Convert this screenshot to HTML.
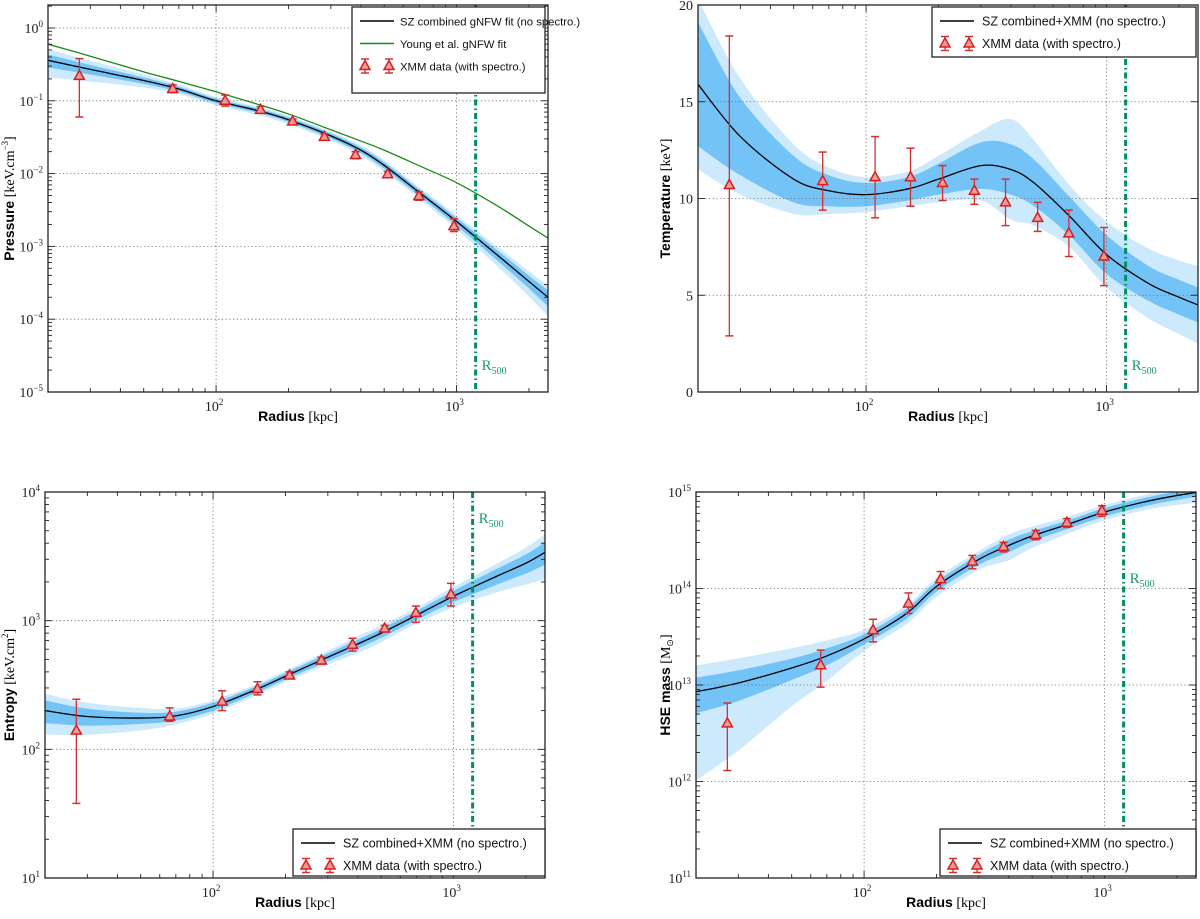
<!DOCTYPE html>
<html><head><meta charset="utf-8"><style>
body{margin:0;background:#fff}
svg text{font-family:"Liberation Serif",serif}
.sans{font-family:"Liberation Sans",sans-serif}
</style></head><body>
<svg id="fig" xmlns="http://www.w3.org/2000/svg" width="1200" height="914" viewBox="0 0 1200 914"></svg>
<script>
// ---- shared data ----
const radiusGrid = [20,30,50,70,100,150,200,300,400,500,700,1000,1500,2000,2400];
const xmmRadius = [27,66,109,153,208,282,380,517,697,975];
const r500 = 1200;

// Pressure
const pressFit = [0.36,0.27,0.19,0.145,0.10,0.073,0.055,0.033,0.021,0.013,0.0055,0.0022,0.00073,0.00033,0.0002];
const pressInner = [0.2,0.15,0.1,0.08,0.07,0.07,0.07,0.08,0.09,0.1,0.1,0.12,0.16,0.2,0.25];
const pressOuter = [0.42,0.32,0.2,0.15,0.13,0.13,0.13,0.14,0.16,0.18,0.18,0.22,0.3,0.38,0.45];
const youngFit = [0.6,0.41,0.25,0.185,0.133,0.089,0.066,0.040,0.028,0.021,0.0128,0.0075,0.0035,0.0019,0.0013];
const pressVal = [0.22,0.145,0.10,0.075,0.052,0.032,0.018,0.0098,0.0049,0.0019];
const pressLo = [0.06,0.13,0.085,0.068,0.048,0.029,0.016,0.009,0.0043,0.0016];
const pressHi = [0.38,0.165,0.12,0.083,0.056,0.035,0.02,0.0107,0.0056,0.0024];

// Temperature
const tempFit = [15.9,13.2,11.0,10.4,10.2,10.5,11.0,11.7,11.5,10.8,9.1,7.1,5.6,4.9,4.5];
const tempInner = [3.2,2.0,1.2,0.8,0.6,0.6,0.8,1.2,1.3,1.2,1.0,1.0,0.9,0.9,0.9];
const tempOuter = [4.4,3.0,1.8,1.2,0.9,0.9,1.2,1.8,2.6,2.2,1.6,1.7,1.8,1.9,2.0];
const tempVal = [10.7,10.9,11.1,11.1,10.8,10.4,9.8,9.0,8.2,7.0];
const tempLo = [2.9,9.4,9.0,9.6,9.9,9.7,8.6,8.3,7.0,5.5];
const tempHi = [18.4,12.4,13.2,12.6,11.7,11.0,11.0,9.8,9.4,8.5];

// Entropy
const entFit = [200,180,175,182,215,290,370,520,660,800,1100,1550,2200,2800,3400];
const entInner = [0.2,0.15,0.1,0.08,0.07,0.06,0.06,0.07,0.08,0.08,0.08,0.1,0.14,0.17,0.2];
const entOuter = [0.35,0.28,0.2,0.14,0.12,0.1,0.1,0.12,0.15,0.15,0.14,0.18,0.25,0.32,0.38];
const entVal = [140,180,235,295,375,490,650,870,1150,1600];
const entLo = [38,165,200,265,355,460,580,820,970,1300];
const entHi = [245,210,285,335,400,520,730,920,1300,1950];

// Mass
const massFit = [8.5e12,1.05e13,1.5e13,2e13,3e13,5.5e13,1.05e14,2e14,2.8e14,3.5e14,4.6e14,6.2e14,8e14,9.2e14,9.9e14];
const massInner = [0.4,0.35,0.25,0.2,0.12,0.12,0.12,0.12,0.15,0.12,0.1,0.1,0.1,0.1,0.1];
const massOuter = [0.88,0.8,0.6,0.45,0.25,0.22,0.22,0.22,0.3,0.25,0.2,0.18,0.18,0.2,0.22];
const massVal = [4e12,1.6e13,3.7e13,7e13,1.25e14,1.9e14,2.7e14,3.6e14,4.8e14,6.4e14];
const massLo = [1.3e12,0.95e13,2.8e13,5.5e13,1e14,1.6e14,2.4e14,3.2e14,4.3e14,5.6e14];
const massHi = [6.5e12,2.3e13,4.8e13,9e13,1.5e14,2.2e14,3e14,4e14,5.3e14,7.2e14];

const xTicks = [100,1000];
const xTickLabels = ['2','3'];

const NS='http://www.w3.org/2000/svg';
const fig=document.getElementById('fig');
function el(tag,attrs,parent){const e=document.createElementNS(NS,tag);for(const k in attrs)e.setAttribute(k,attrs[k]);(parent||fig).appendChild(e);return e;}

function smoothPath(pts){
  let d='M'+pts[0][0].toFixed(2)+','+pts[0][1].toFixed(2);
  for(let i=0;i<pts.length-1;i++){
    const p0=pts[Math.max(0,i-1)],p1=pts[i],p2=pts[i+1],p3=pts[Math.min(pts.length-1,i+2)];
    const c1=[p1[0]+(p2[0]-p0[0])/6,p1[1]+(p2[1]-p0[1])/6];
    const c2=[p2[0]-(p3[0]-p1[0])/6,p2[1]-(p3[1]-p1[1])/6];
    d+=' C'+c1[0].toFixed(2)+','+c1[1].toFixed(2)+' '+c2[0].toFixed(2)+','+c2[1].toFixed(2)+' '+p2[0].toFixed(2)+','+p2[1].toFixed(2);
  }
  return d;
}

function panel(cfg){
  const {L,R,T,B,name}=cfg;
  const g=el('g',{});
  
  
  const lx0=Math.log10(20),lx1=Math.log10(2400);
  const X=v=>L+(Math.log10(v)-lx0)/(lx1-lx0)*(R-L);
  let Y;
  if(cfg.ylog){const a=Math.log10(cfg.ymin),b=Math.log10(cfg.ymax);Y=v=>B-(Math.log10(v)-a)/(b-a)*(B-T);}
  else{Y=v=>B-(v-cfg.ymin)/(cfg.ymax-cfg.ymin)*(B-T);}
  const cid='clip-'+name;
  const defs=el('defs',{},g);const cp=el('clipPath',{id:cid},defs);el('rect',{x:L,y:T,width:R-L,height:B-T},cp);
  const pg=el('g',{'clip-path':'url(#'+cid+')'},g);
  const lo=(i,w)=>cfg.ylog?cfg.fit[i]*(1-w[i]):cfg.fit[i]-w[i];
  const hi=(i,w)=>cfg.ylog?cfg.fit[i]*(1+w[i]):cfg.fit[i]+w[i];
  function band(w,color,nm){
    const top=radiusGrid.map((r,i)=>[X(r),Y(hi(i,w))]);
    const bot=radiusGrid.map((r,i)=>[X(r),Y(lo(i,w))]).reverse();
    let d=smoothPath(top)+' L'+smoothPath(bot).slice(1)+' Z';
    const p=el('path',{d:d,fill:color,stroke:'none'},pg);
    
    
  }
  band(cfg.outer,'#cde9fc','outer-confidence-band');
  band(cfg.inner,'#74c3f6','inner-confidence-band');
  // grid
  cfg.yTicks.forEach(v=>{const y=Y(v);if(y>T+1&&y<B-1){const l=el('line',{x1:L,x2:R,y1:y,y2:y,stroke:'#666','stroke-width':0.8,'stroke-dasharray':'1.2,2.5'},g);}});
  xTicks.forEach(v=>{const x=X(v);const l=el('line',{x1:x,x2:x,y1:T,y2:B,stroke:'#666','stroke-width':0.8,'stroke-dasharray':'1.2,2.5'},g);});
  // extra line
  if(cfg.extra){const p=el('path',{d:smoothPath(radiusGrid.map((r,i)=>[X(r),Y(cfg.extra[i])])),fill:'none',stroke:'#1a8a1a','stroke-width':1.3},pg);}
  // fit
  const fp=el('path',{d:smoothPath(radiusGrid.map((r,i)=>[X(r),Y(cfg.fit[i])])),fill:'none',stroke:'#000','stroke-width':1.3},pg);
  
  // R500
  const rx=X(r500);
  const rl=el('line',{x1:rx,x2:rx,y1:T,y2:B,stroke:'#00905a','stroke-width':3,'stroke-dasharray':'6,3,1.5,3'},g);
  
  const rt=el('text',{x:rx+6,y:cfg.r500y,fill:'#1a9a6a','font-size':15},g);
  
  rt.innerHTML='R<tspan font-size="10" dy="4">500</tspan>';
  // data points
  xmmRadius.forEach((r,i)=>{
    const x=X(r),y=Y(cfg.val[i]),y1=Y(cfg.lo[i]),y2=Y(cfg.hi[i]);
    const dg=el('g',{},g);
    
    el('line',{x1:x,x2:x,y1:y1,y2:y2,stroke:'#d43030','stroke-width':1.3},dg);
    el('line',{x1:x-4,x2:x+4,y1:y1,y2:y1,stroke:'#d43030','stroke-width':1.5},dg);
    el('line',{x1:x-4,x2:x+4,y1:y2,y2:y2,stroke:'#d43030','stroke-width':1.5},dg);
    el('path',{d:`M${x},${y-5.5} L${x+5},${y+3.5} L${x-5},${y+3.5} Z`,fill:'#f29a9a',stroke:'#d42020','stroke-width':1.5},dg);
  });
  // axes frame
  const fr=el('rect',{x:L,y:T,width:R-L,height:B-T,fill:'none',stroke:'#222','stroke-width':1.3},g);
  
  // x ticks
  const mk=(x1,y1,x2,y2)=>el('line',{x1,y1,x2,y2,stroke:'#222','stroke-width':0.9},g);
  for(let d=10;d<=1000;d*=10)for(let m=1;m<10;m++){const v=d*m;if(v<20||v>2400)continue;const x=X(v);const len=m===1?7:4;mk(x,B,x,B-len);mk(x,T,x,T+len);}
  xTicks.forEach((v,i)=>{const t=el('text',{x:X(v)-2,y:B+19,'font-size':14,'text-anchor':'middle',fill:'#222'},g);t.innerHTML='10<tspan font-size="9" dy="-6">'+xTickLabels[i]+'</tspan>';});
  // y ticks
  if(cfg.ylog){
    const a=Math.round(Math.log10(cfg.ymin)),b=Math.ceil(Math.log10(cfg.ymax));
    for(let e=a;e<=b;e++)for(let m=1;m<10;m++){const v=m*Math.pow(10,e);if(v<cfg.ymin*0.999||v>cfg.ymax)continue;const y=Y(v);const len=m===1?7:4;mk(L,y,L+len,y);mk(R,y,R-len,y);}
  } else {
    for(let v=cfg.ymin;v<=cfg.ymax;v+=5){const y=Y(v);mk(L,y,L+7,y);mk(R,y,R-7,y);}
  }
  cfg.yTicks.forEach((v,i)=>{const t=el('text',{x:L-5,y:Y(v)+5,'font-size':14,'text-anchor':'end',fill:'#222'},g);
    if(cfg.ylog){t.innerHTML='10<tspan font-size="9" dy="-6">'+cfg.yTickLabels[i]+'</tspan>';}else t.textContent=cfg.yTickLabels[i];});
  // axis labels
  const xl=el('text',{x:(L+R)/2,y:B+29,'font-size':14,'text-anchor':'middle'},g);
  
  xl.innerHTML='<tspan class="sans" font-weight="bold">Radius</tspan> [kpc]';
  const yl=el('text',{x:0,y:0,'font-size':14,'text-anchor':'middle',transform:`translate(${cfg.ylx},${(T+B)/2}) rotate(-90)`},g);
  
  yl.innerHTML='<tspan class="sans" font-weight="bold">'+cfg.ylab+'</tspan> '+cfg.yunit;
  // legend
  const lg=el('g',{},g);
  const Lg=cfg.legend;
  el('rect',{x:Lg.x,y:Lg.y,width:Lg.w,height:Lg.h,fill:'#fff',stroke:'#222','stroke-width':1.3},lg);
  Lg.items.forEach((it,i)=>{
    const yy=Lg.y+14+i*22.5;
    const e=el('g',{},lg);
    if(it.type==='pt'){[Lg.x+13,Lg.x+37].forEach(px=>{el('line',{x1:px,x2:px,y1:yy-7,y2:yy+7,stroke:'#d43030','stroke-width':1.3},e);el('line',{x1:px-4,x2:px+4,y1:yy-7,y2:yy-7,stroke:'#d43030','stroke-width':1.5},e);el('line',{x1:px-4,x2:px+4,y1:yy+7,y2:yy+7,stroke:'#d43030','stroke-width':1.5},e);el('path',{d:`M${px},${yy-5.5} L${px+5},${yy+3.5} L${px-5},${yy+3.5} Z`,fill:'#f29a9a',stroke:'#d42020','stroke-width':1.5},e);});}
    else el('line',{x1:Lg.x+8,x2:Lg.x+42,y1:yy,y2:yy,stroke:it.color,'stroke-width':1.4},e);
    const t=el('text',{x:Lg.x+Lg.tx,y:yy+4.5,'font-size':Lg.fs,class:'sans',fill:'#111'},e);t.textContent=it.text;
  });
}

panel({name:'pressure',L:48,R:548,T:5,B:392,ylog:true,ymin:1e-5,ymax:2.07,fit:pressFit,inner:pressInner,outer:pressOuter,extra:youngFit,val:pressVal,lo:pressLo,hi:pressHi,
  yTicks:[1,0.1,0.01,0.001,1e-4,1e-5],yTickLabels:['0','\u22121','\u22122','\u22123','\u22124','\u22125'],r500y:370,ylx:14,ylab:'Pressure',yunit:'[keV.cm<tspan font-size="9" dy="-6">\u22123</tspan><tspan dy="6">]</tspan>',
  legend:{x:352,y:7,w:193,h:86,tx:48,fs:11.3,items:[{type:'line',color:'#000',text:'SZ combined gNFW fit (no spectro.)'},{type:'line',color:'#1a8a1a',text:'Young et al. gNFW fit'},{type:'pt',text:'XMM data (with spectro.)'}]}});
panel({name:'temperature',L:698,R:1198,T:5,B:392,ylog:false,ymin:0,ymax:20,fit:tempFit,inner:tempInner,outer:tempOuter,val:tempVal,lo:tempLo,hi:tempHi,
  yTicks:[0,5,10,15,20],yTickLabels:['0','5','10','15','20'],r500y:370,ylx:670,ylab:'Temperature',yunit:'[keV]',
  legend:{x:932,y:7,w:264,h:50,tx:50,fs:12.5,items:[{type:'line',color:'#000',text:'SZ combined+XMM (no spectro.)'},{type:'pt',text:'XMM data (with spectro.)'}]}});
panel({name:'entropy',L:45,R:545,T:492,B:878,ylog:true,ymin:10,ymax:1e4,fit:entFit,inner:entInner,outer:entOuter,val:entVal,lo:entLo,hi:entHi,
  yTicks:[1e4,1e3,100,10],yTickLabels:['4','3','2','1'],r500y:523,ylx:14,ylab:'Entropy',yunit:'[keV.cm<tspan font-size="9" dy="-6">2</tspan><tspan dy="6">]</tspan>',
  legend:{x:293,y:829,w:252,h:47,tx:50,fs:12.5,items:[{type:'line',color:'#000',text:'SZ combined+XMM (no spectro.)'},{type:'pt',text:'XMM data (with spectro.)'}]}});
panel({name:'hse-mass',L:696,R:1196,T:492,B:878,ylog:true,ymin:1e11,ymax:1e15,fit:massFit,inner:massInner,outer:massOuter,val:massVal,lo:massLo,hi:massHi,
  yTicks:[1e15,1e14,1e13,1e12,1e11],yTickLabels:['15','14','13','12','11'],r500y:583,ylx:670,ylab:'HSE mass',yunit:'[M<tspan font-size="9" dy="3">\u2299</tspan><tspan dy="-3">]</tspan>',
  legend:{x:940,y:829,w:256,h:47,tx:50,fs:12.5,items:[{type:'line',color:'#000',text:'SZ combined+XMM (no spectro.)'},{type:'pt',text:'XMM data (with spectro.)'}]}});
</script>
</body></html>
